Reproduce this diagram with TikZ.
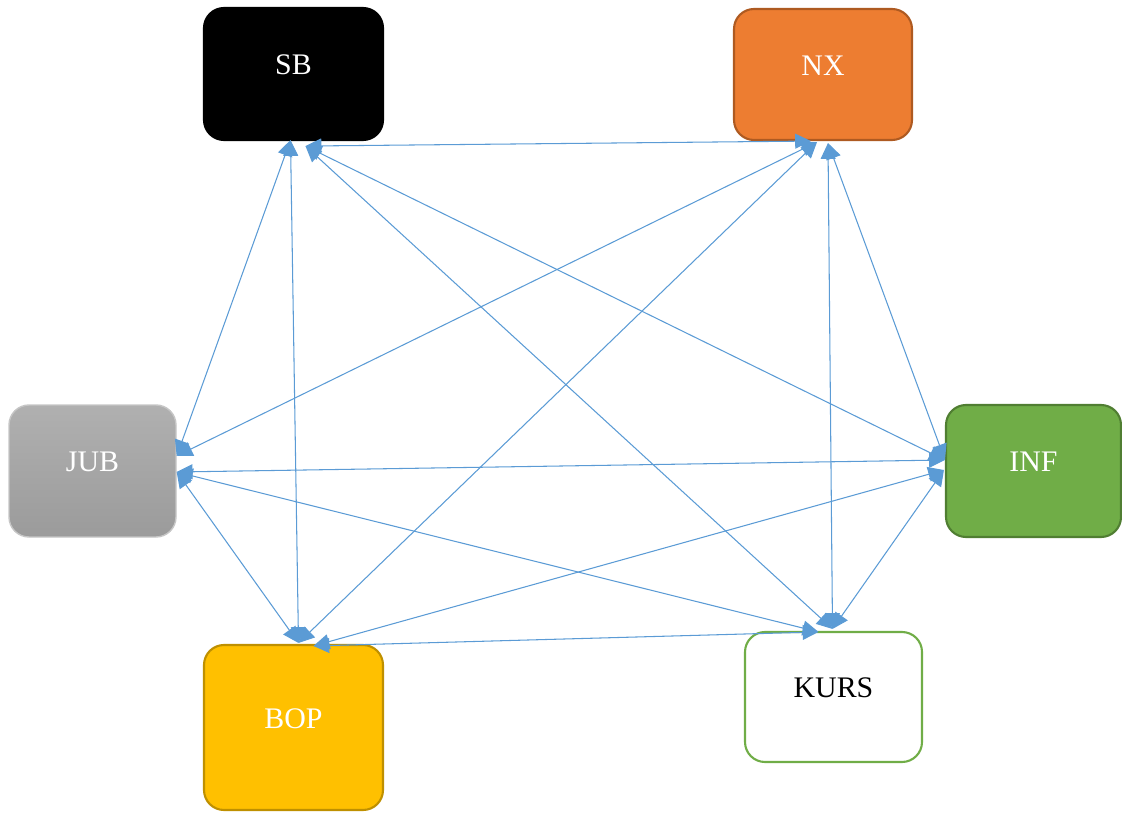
\documentclass[tikz,border=0pt]{standalone}
\usepackage{fontspec}
\setmainfont{Liberation Serif}
\usetikzlibrary{arrows.meta}
\definecolor{lnk}{HTML}{5B9BD5}
\definecolor{orng}{HTML}{ED7D31}
\definecolor{orngd}{HTML}{AE5A21}
\definecolor{grn}{HTML}{70AD47}
\definecolor{grnd}{HTML}{507E32}
\definecolor{yel}{HTML}{FFC000}
\definecolor{yeld}{HTML}{BF9000}
\tikzset{
  box/.style={rounded corners=0.4cm, line width=1.2pt, inner sep=0pt, font=\fontsize{17}{20}\selectfont, text=white},
  link/.style={draw=lnk, line width=0.6pt, {Triangle[length=9pt,width=8.5pt]}-{Triangle[length=9pt,width=8.5pt]}},
}
\begin{document}
\begin{tikzpicture}[x=0.02cm,y=-0.02cm]
\useasboundingbox (0,0) rectangle (1122,814);
\node[box, fill=black, draw=black, minimum width=179*0.02cm, minimum height=132*0.02cm] (sb) at (293.5,74) {\raisebox{0.36cm}{SB}};
\node[box, fill=orng, draw=orngd, minimum width=178*0.02cm, minimum height=131*0.02cm] (nx) at (823,74.5) {\raisebox{0.36cm}{NX}};
\node[box, top color=gray!62, bottom color=gray!88!black!70, draw=gray!45, line width=0.8pt, minimum width=167*0.02cm, minimum height=132*0.02cm] (jub) at (92.5,471) {\raisebox{0.36cm}{JUB}};
\node[box, fill=grn, draw=grnd, minimum width=175*0.02cm, minimum height=132*0.02cm] (inf) at (1033.5,471) {\raisebox{0.36cm}{INF}};
\node[box, fill=yel, draw=yeld, minimum width=179*0.02cm, minimum height=165*0.02cm] (bop) at (293.5,727.5) {\raisebox{0.36cm}{BOP}};
\node[box, fill=white, draw=grn, text=black, minimum width=177*0.02cm, minimum height=130*0.02cm] (kurs) at (833.5,697) {\raisebox{0.36cm}{KURS}};
% ports
\coordinate (sbL) at ([shift={(-3,-1)}]sb.south);
\coordinate (sbR) at ([shift={(12,5)}]sb.south);
\coordinate (nxS) at ([shift={(-12,0)}]nx.south);
\coordinate (nxL) at ([shift={(-6,1)}]nx.south);
\coordinate (nxR) at ([shift={(5,2)}]nx.south);
\coordinate (jubU) at ([shift={(0,-15)}]jub.east);
\coordinate (jubD) at ([shift={(0,1)}]jub.east);
\coordinate (infU) at ([shift={(0,-11)}]inf.west);
\coordinate (infD) at ([shift={(-1,-1)}]inf.west);
\coordinate (bopL) at ([shift={(5,-1)}]bop.north);
\coordinate (bopR) at ([shift={(20,2)}]bop.north);
\coordinate (kursL) at ([shift={(-15,1)}]kurs.north);
\coordinate (kursR) at ([shift={(-1,-2)}]kurs.north);
% links
\draw[link] (sbR) -- (nxS);
\draw[link] (sbL) -- (jubU);
\draw[link] (sbL) -- (bopL);
\draw[link] (sbR) -- (infU);
\draw[link] (sbR) -- (kursR);
\draw[link] (nxL) -- (jubU);
\draw[link] (nxL) -- (bopL);
\draw[link] (nxR) -- (kursR);
\draw[link] (nxR) -- (infU);
\draw[link] (jubD) -- (infU);
\draw[link] (jubD) -- (kursL);
\draw[link] (jubD) -- (bopL);
\draw[link] (bopR) -- (infD);
\draw[link] (bopR) -- (kursL);
\draw[link] (infD) -- (kursR);
\end{tikzpicture}
\end{document}
